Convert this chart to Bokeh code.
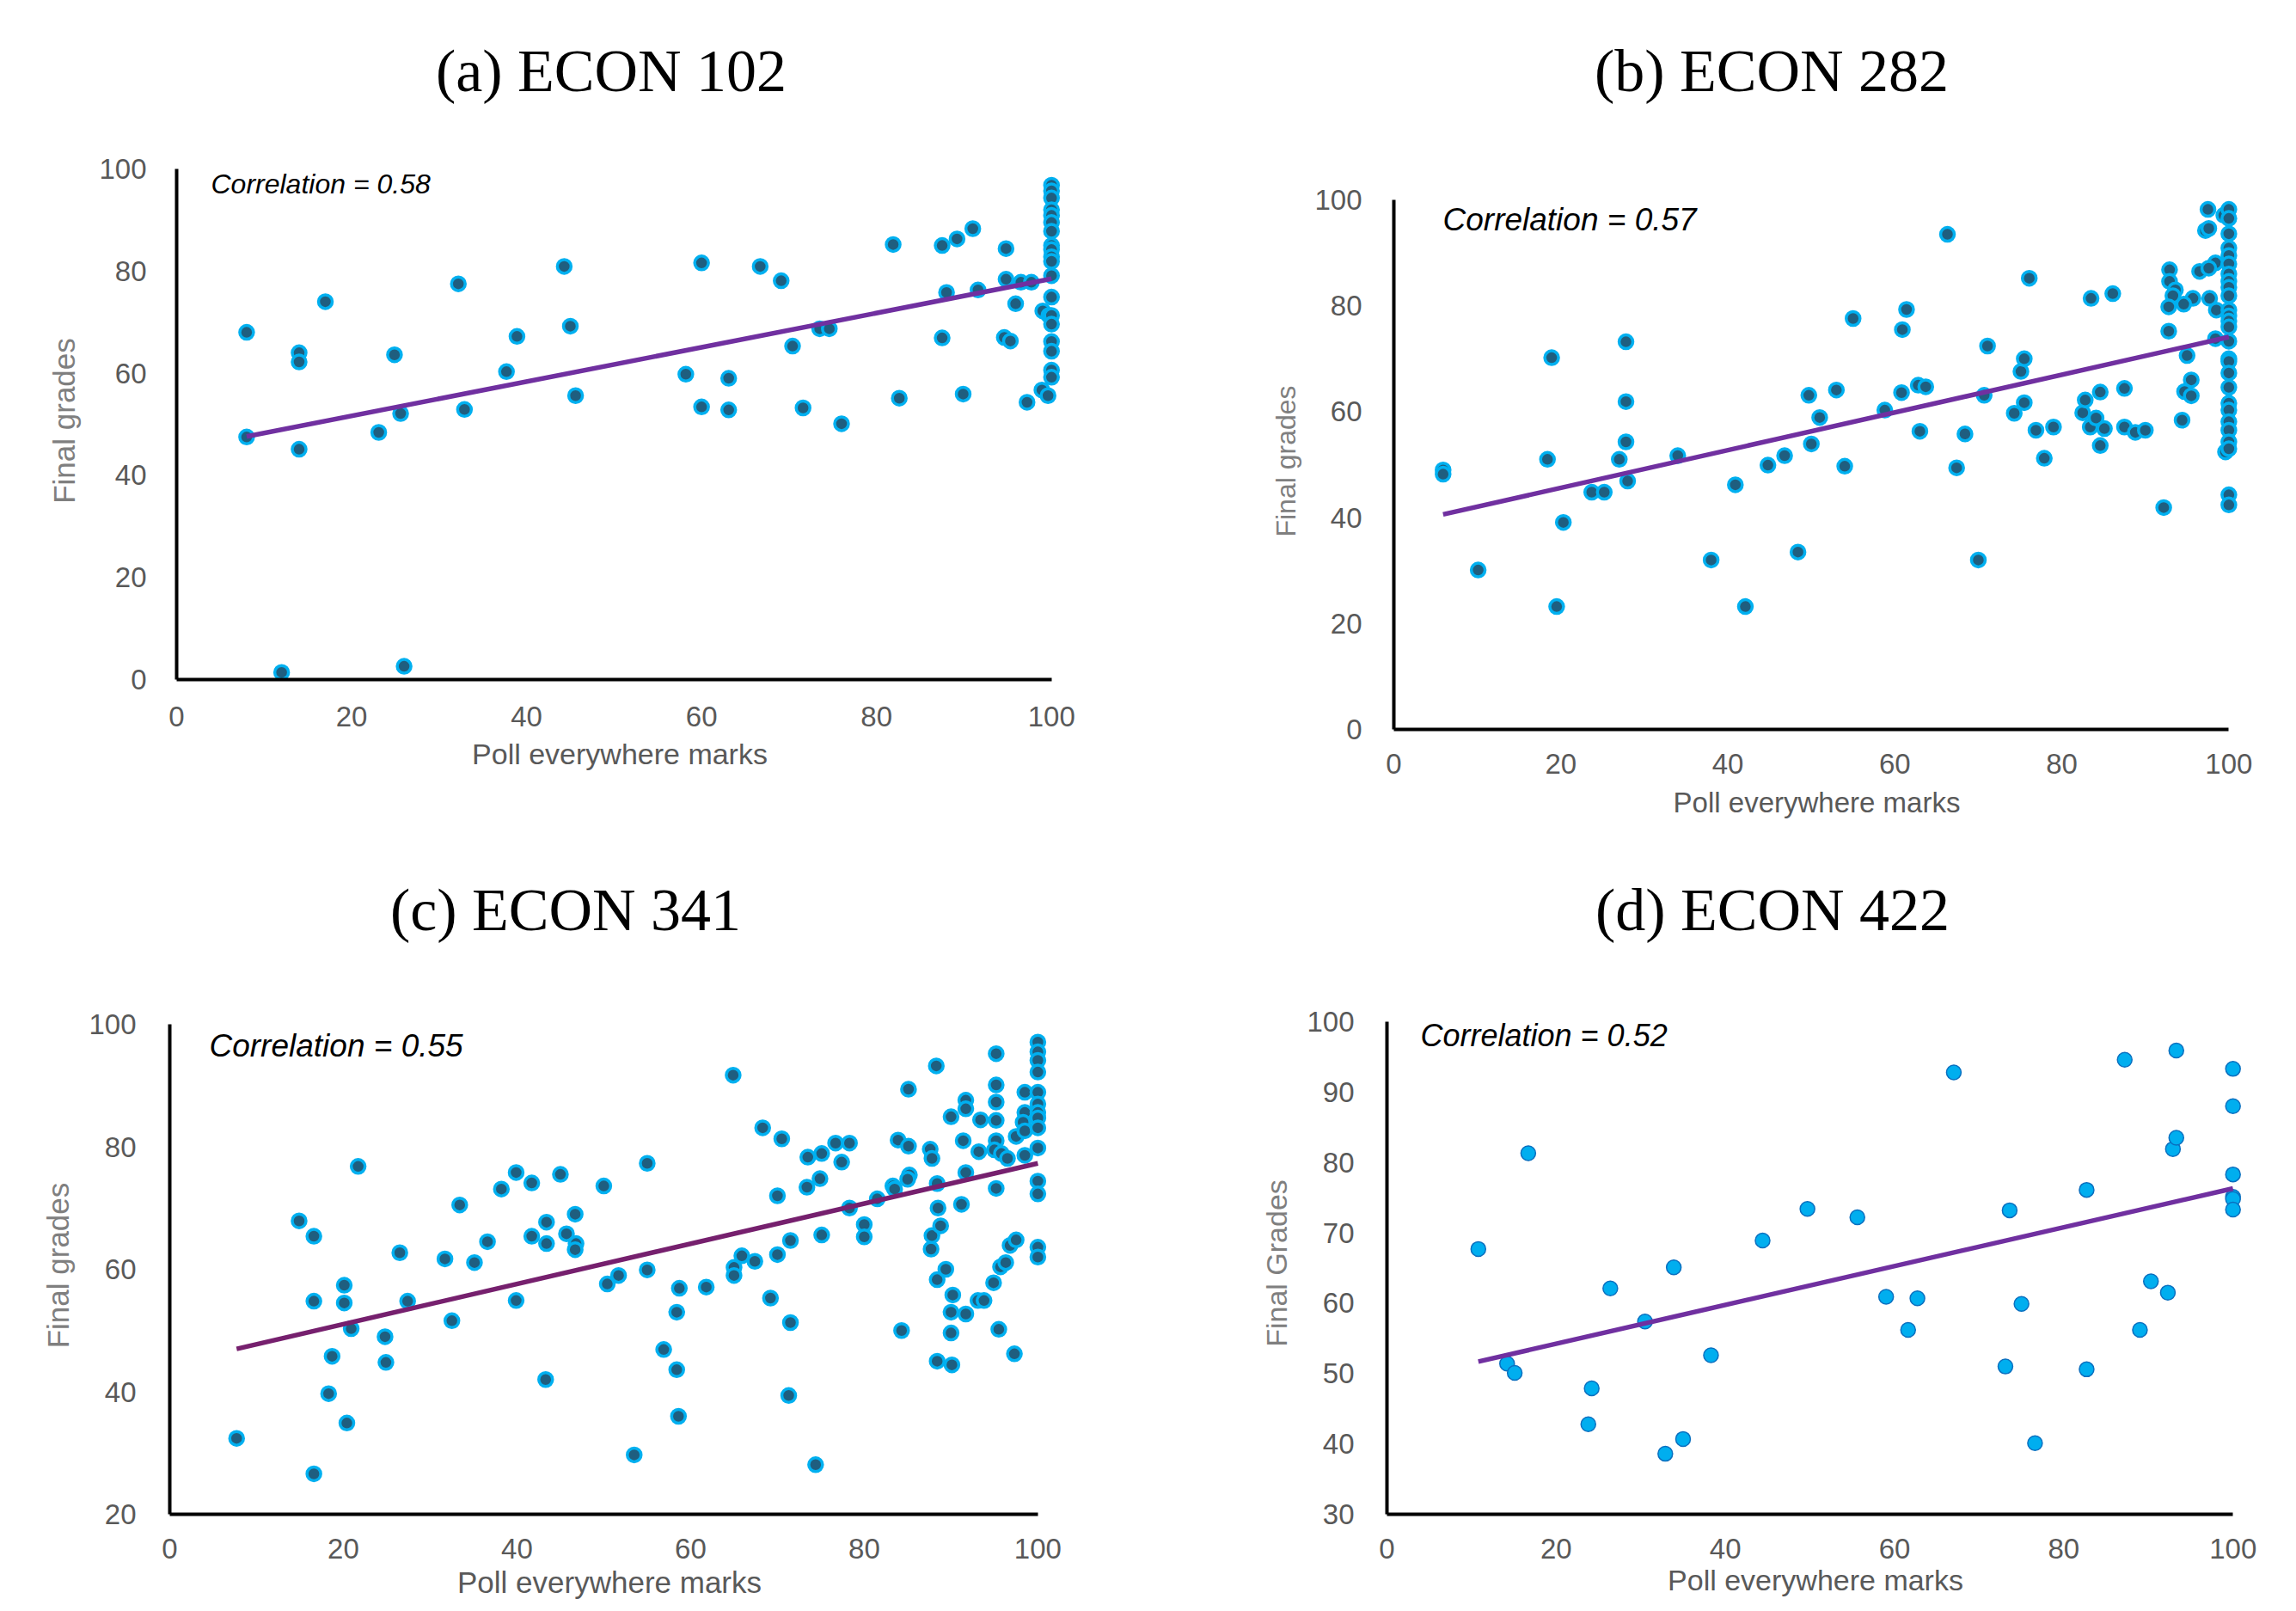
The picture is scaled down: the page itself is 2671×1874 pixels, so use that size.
from bokeh.plotting import figure
from bokeh.layouts import column, row
from bokeh.models import Range1d, Label, FixedTicker, Spacer, Div
from bokeh.embed import file_html
from bokeh.resources import INLINE

# ---------------- data ----------------
titles = ["(a) ECON 102", "(b) ECON 282", "(c) ECON 341", "(d) ECON 422"]
correlations = ["Correlation = 0.58", "Correlation = 0.57", "Correlation = 0.55", "Correlation = 0.52"]
x_label = "Poll everywhere marks"
y_labels = ["Final grades", "Final grades", "Final grades", "Final Grades"]
x_ticks = [0, 20, 40, 60, 80, 100]
y_ticks_a = [0, 20, 40, 60, 80, 100]
y_ticks_b = [0, 20, 40, 60, 80, 100]
y_ticks_c = [20, 40, 60, 80, 100]
y_ticks_d = [30, 40, 50, 60, 70, 80, 90, 100]

a_poll = [8, 8, 12, 14, 14, 14, 17, 23.1, 24.9, 25.6, 26, 32.2, 32.9, 37.7, 38.9, 44.3, 45, 45.6,
          58.2, 60, 60, 63.1, 63.1, 66.7, 69.1, 70.4, 71.6, 73.5, 74.6, 76, 81.9, 82.6, 87.5, 87.5,
          88, 89.2, 89.9, 91, 91.6, 94.8, 94.8, 94.6, 95.3, 95.9, 96.5, 97.7, 97.2, 98.9, 99.6, 99.0, 99.7,
          100, 100, 100, 100, 100, 100, 100, 100, 100, 100, 100, 100, 100, 100, 100, 100, 100, 100, 100]
a_final = [68, 47.5, 1.4, 64, 62.2, 45.1, 74, 48.4, 63.6, 52.1, 2.6, 77.5, 52.9, 60.3, 67.2, 80.9, 69.2, 55.6,
           59.8, 81.6, 53.4, 59, 52.8, 80.9, 78.1, 65.3, 53.2, 68.7, 68.7, 50.1, 85.2, 55.1, 85, 66.9,
           75.8, 86.3, 55.9, 88.3, 76.3, 84.4, 78.4, 67, 66.3, 73.6, 77.8, 77.8, 54.3, 56.7, 55.6, 72.2, 71.3,
           96.8, 95.7, 94.3, 92.0, 90.9, 89.5, 87.8, 85.0, 84.2, 82.8, 81.9, 79.1, 74.9, 71.3, 69.6, 66.2, 64.3, 60.6, 59.2]
a_trend_x = [8, 100]
a_trend_y = [47.6, 78.5]

b_poll = [5.9, 5.9, 10.1, 18.4, 18.9, 19.5, 20.3, 23.7, 25.2, 27.0, 27.8, 27.8, 27.8, 28.0, 34.0, 38.0,
          40.9, 42.1, 44.8, 46.8, 48.4, 49.7, 50.0, 51.0, 53.0, 54.0, 55.0, 58.8, 60.8, 60.9, 61.4, 62.8,
          63.0, 63.7, 66.3, 67.4, 68.4, 70.0, 70.7, 71.1, 74.3, 75.1, 75.5, 75.5, 76.1, 76.9, 77.9, 79.0,
          82.5, 82.8, 83.5, 83.4, 84.1, 84.6, 84.6, 85.1, 86.1, 87.5, 87.5, 88.8, 90.0, 92.2,
          92.9, 92.9, 93.6, 93.3, 95.7, 94.6, 92.8, 97.7, 98.5, 92.8, 98.4, 95.0, 95.5, 94.7, 95.5, 94.4,
          97.5, 99.4, 97.2, 97.6, 98.4, 96.5, 97.6, 99.6,
          100, 100, 100, 100, 100, 100, 100, 100, 100, 100, 100, 100, 100, 100, 100, 100, 100, 100,
          100, 100, 100, 100, 100, 100, 100, 100, 100]
b_final = [49.0, 48.2, 30.1, 51.0, 70.2, 23.2, 39.1, 44.8, 44.8, 51.0, 73.2, 61.9, 54.3, 46.9, 51.7, 32.0,
           46.2, 23.2, 49.9, 51.7, 33.5, 63.1, 53.9, 58.9, 64.1, 49.7, 77.6, 60.3, 63.6, 75.5, 79.3, 65.0,
           56.3, 64.7, 93.5, 49.4, 55.8, 32.0, 63.1, 72.4, 59.7, 67.6, 70.0, 61.7, 85.2, 56.5, 51.2, 57.1,
           59.8, 62.2, 81.4, 57.1, 58.8, 63.7, 53.6, 56.8, 82.3, 64.4, 57.1, 56.1, 56.5, 41.9,
           86.8, 84.6, 83.0, 81.9, 81.4, 80.3, 79.8, 81.4, 79.2, 75.2, 73.8, 70.6, 66.0, 63.8, 63.0, 58.4,
           98.2, 97.1, 94.2, 94.6, 88.1, 86.5, 87.1, 52.4,
           98.2, 96.5, 93.6, 90.9, 89.5, 87.9, 86.0, 84.6, 83.5, 81.9, 79.2, 78.1, 77.1, 76.0, 73.3, 70.0,
           69.5, 67.3, 64.6, 61.6, 60.3, 58.1, 56.5, 54.3, 53.0, 44.3, 42.4]
b_trend_x = [5.9, 100]
b_trend_y = [40.6, 74.1]

c_poll = [7.7, 14.9, 16.6, 16.6, 16.6, 18.3, 18.7, 20.1, 20.1, 20.4, 20.9, 21.7, 24.8, 24.9, 26.5, 27.4,
          31.7, 32.5, 33.4, 35.1, 36.6, 38.2, 39.9, 39.9, 41.7, 41.7, 43.3, 43.4, 43.4, 45.0, 45.7, 46.7,
          46.8, 46.7, 50.0, 50.4, 51.7, 53.5, 55.0, 55.0, 56.9, 58.4, 58.4, 58.6, 58.7, 61.8, 64.9, 65.0,
          65.0, 65.9, 67.4, 68.3, 69.2, 70.0, 70.0, 70.5, 71.5, 71.5, 71.3, 73.4, 73.5, 74.4, 74.9, 75.1,
          75.1, 76.7, 77.4, 78.3, 78.3, 80.0, 80.0, 81.5, 83.3, 83.5, 83.9, 84.3, 85.1, 85.1, 85.2, 85.0,
          87.6, 87.8, 87.7, 87.8, 88.3, 88.4, 88.5, 88.8, 88.4, 88.4, 89.4, 90.0, 90.1, 90.2, 90.0, 90.0,
          91.2, 91.4, 91.7, 91.7, 91.7, 91.7, 93.1, 93.4, 93.2, 93.8, 94.9, 95.2, 95.2, 95.2, 95.2, 95.2,
          95.0, 95.8, 96.5, 95.2, 95.5, 95.7, 96.3, 96.8, 97.5, 97.3, 97.5, 98.5, 98.5, 98.3, 98.5, 98.5,
          100, 100, 100, 100, 100, 100, 100, 100, 100, 100, 100, 100, 100, 100]
c_final = [32.4, 67.9, 65.4, 54.8, 26.6, 39.7, 45.8, 57.4, 54.5, 34.9, 50.3, 76.8, 49.0, 44.8, 62.7, 54.8,
           61.7, 51.6, 70.5, 61.1, 64.5, 73.1, 75.8, 54.9, 74.1, 65.4, 42.0, 67.7, 64.2, 75.5, 65.8, 69.0,
           64.2, 63.2, 73.6, 57.6, 59.0, 29.7, 77.3, 59.9, 46.9, 43.6, 53.0, 36.0, 56.9, 57.1, 91.7, 60.3,
           59.0, 62.2, 61.3, 83.1, 55.3, 72.0, 62.4, 81.3, 64.7, 51.3, 39.4, 73.4, 78.3, 28.1, 74.8, 78.9,
           65.6, 80.6, 77.5, 80.6, 70.0, 67.3, 65.3, 71.5, 73.6, 73.1, 81.1, 50.0, 89.4, 80.1, 75.4, 74.7,
           79.6, 78.1, 63.3, 65.5, 93.2, 74.0, 70.0, 67.1, 58.3, 45.0, 60.0, 84.9, 44.4, 55.8, 53.0, 49.6,
           70.6, 81.0, 52.7, 75.8, 87.6, 86.2, 54.9, 84.4, 79.2, 54.9, 57.8, 95.2, 90.1, 87.3, 84.3, 81.0,
           79.5, 78.9, 78.1, 73.2, 50.2, 60.4, 61.1, 63.9, 64.8, 46.2, 81.7, 88.9, 85.6, 84.0, 82.6, 78.6,
           97.1, 95.5, 94.1, 92.2, 88.9, 87.0, 85.6, 84.7, 83.1, 79.8, 74.4, 72.3, 63.6, 62.0]
c_trend_x = [7.7, 100]
c_trend_y = [47.0, 77.3]

d_poll = [10.8, 14.2, 15.1, 16.7, 23.8, 24.2, 26.4, 30.5, 32.9, 33.9, 35.0, 38.3, 44.4, 49.7, 55.6, 59.0,
          61.6, 62.7, 67.0, 73.1, 73.6, 75.0, 76.6, 82.7, 82.7, 87.2, 89.0, 90.3, 92.3, 92.9, 93.3, 93.3,
          100, 100, 100, 100, 100, 100]
d_final = [67.7, 51.4, 50.1, 81.3, 42.8, 47.9, 62.1, 57.4, 38.6, 65.1, 40.7, 52.6, 68.9, 73.4, 72.2, 60.9,
           56.2, 60.7, 92.8, 51.0, 73.2, 59.9, 40.1, 76.1, 50.6, 94.6, 56.2, 63.1, 61.5, 81.9, 83.5, 95.9,
           93.3, 88.0, 78.3, 75.1, 74.8, 73.3]
d_trend_x = [10.8, 100]
d_trend_y = [51.7, 76.3]

# ---------------- layout helpers ----------------
TICK_FONT = "Liberation Sans"
TITLE_PX = 70
T_BORDER = 10


def make_panel(xs, ys, tx, ty, title, corr, ylab, yticks, geom, style):
    ox, W = geom["col"]
    row_top, row_bottom, B = geom["row"]
    px0, px100, py_top, py_bot = geom["frame"]
    ymin, ymax = yticks[0], yticks[-1]
    sx = (px100 - px0) / 100.0
    sy = (py_bot - py_top) / float(ymax - ymin)
    x_end = 101.3
    left = px0 - ox
    frame_right = left + sx * x_end

    frame_top_nom = py_bot - sy * (ymax + 1.3 - ymin)
    div_h = int(round(frame_top_nom - T_BORDER - row_top))
    frame_top = row_top + div_h + T_BORDER
    y_end = ymin + (py_bot - frame_top) / sy
    plot_h = int(py_bot + B - frame_top + T_BORDER)
    spacer_h = row_bottom - (row_top + div_h + plot_h)

    def to_x(pg):
        return (pg - px0) / sx

    def to_y(pg):
        return ymin + (py_bot - pg) / sy

    p = figure(width=W, height=plot_h, output_backend="svg", toolbar_location=None, title=None,
               x_range=Range1d(0, x_end), y_range=Range1d(ymin, y_end),
               min_border_left=int(round(left)), min_border_right=int(round(W - frame_right)),
               min_border_top=T_BORDER, min_border_bottom=B)
    p.outline_line_color = None
    p.background_fill_color = "white"
    p.border_fill_color = "white"
    p.xgrid.visible = False
    p.ygrid.visible = False

    for ax in (p.xaxis[0], p.yaxis[0]):
        ax.axis_line_color = "black"
        ax.axis_line_width = 4
        ax.major_tick_line_color = None
        ax.minor_tick_line_color = None
        ax.major_tick_out = 0
        ax.major_tick_in = 0
        ax.major_label_text_font = TICK_FONT
        ax.major_label_text_font_size = "33px"
        ax.major_label_text_color = "#595959"
        ax.axis_label_text_font = TICK_FONT
        ax.axis_label_text_font_style = "normal"

    p.xaxis.ticker = FixedTicker(ticks=x_ticks)
    p.yaxis.ticker = FixedTicker(ticks=yticks)
    p.xaxis.bounds = (0, 100)
    p.yaxis.bounds = (ymin, ymax)
    p.xaxis.axis_label = x_label
    p.yaxis.axis_label = ylab
    p.xaxis.axis_label_text_font_size = geom["xlab_size"]
    p.yaxis.axis_label_text_font_size = geom["ylab_size"]
    p.xaxis.axis_label_text_color = "#595959"
    p.yaxis.axis_label_text_color = "#7f7f7f"
    p.xaxis.major_label_standoff = geom["xstand"][0]
    p.xaxis.axis_label_standoff = geom["xstand"][1]
    p.yaxis.major_label_standoff = geom["ystand"][0]
    p.yaxis.axis_label_standoff = geom["ystand"][1]

    p.scatter(xs, ys, size=style["size"], fill_color=style["fill"], line_color=style["edge"],
              line_width=style["edge_w"])
    p.line(tx, ty, line_color=style["trend"], line_width=5.5)

    cx, cy, cs = geom["corr"]
    p.add_layout(Label(x=to_x(cx), y=to_y(cy), text=corr, text_align="left",
                       text_baseline="alphabetic", text_font=TICK_FONT, text_font_style="italic",
                       text_font_size=cs, text_color="black"))

    # title as a centred heading above the plot
    tcx, tby = geom["title"]
    shift = tcx - (ox + W / 2.0)
    base_rel = tby - row_top
    line_h = 2 * (base_rel - 0.891 * TITLE_PX) + 1.107 * TITLE_PX
    styles = {
        "font-family": "Liberation Serif",
        "font-size": "%dpx" % TITLE_PX,
        "line-height": "%.1fpx" % line_h,
        "text-align": "center",
        "color": "black",
        "white-space": "nowrap",
        "box-sizing": "border-box",
        "overflow": "visible",
    }
    if shift >= 0:
        styles["padding-left"] = "%dpx" % int(round(2 * shift))
    else:
        styles["padding-right"] = "%dpx" % int(round(-2 * shift))
    head = Div(text=title, width=W, height=div_h, margin=0, styles=styles)

    items = [head, p]
    if spacer_h > 0:
        items.append(Spacer(width=W, height=spacer_h, margin=0))
    return column(*items, spacing=0)


style_dark = dict(size=16, fill="#1f5e7f", edge="#00b0f0", edge_w=3.5, trend="#7030a0")
style_c = dict(size=16, fill="#1f5e7f", edge="#00b0f0", edge_w=3.5, trend="#76206e")
style_d = dict(size=17, fill="#00aeef", edge="#0a6fbf", edge_w=1.5, trend="#7030a0")

ROW1 = (0, 964, 116)
ROW2 = (964, 1873, 112)

geom_a = dict(col=(0, 1335), row=ROW1, frame=(205, 1223, 196, 790), xstand=(31, 10), ystand=(35, 18),
              title=(711, 107), corr=(245, 213, "32px"), xlab_size="34px", ylab_size="35px")
geom_b = dict(col=(1335, 1336), row=ROW1, frame=(1621, 2592, 232, 848), xstand=(28, 12), ystand=(37, 12),
              title=(2061, 107), corr=(1678, 255, "37px"), xlab_size="33px", ylab_size="32px")
geom_c = dict(col=(0, 1335), row=ROW2, frame=(197, 1207, 1191, 1761), xstand=(28, 5), ystand=(39, 13),
              title=(658, 1083), corr=(243, 1216, "37px"), xlab_size="35px", ylab_size="35px")
geom_d = dict(col=(1335, 1336), row=ROW2, frame=(1613, 2597, 1188, 1761), xstand=(28, 3), ystand=(38, 13),
              title=(2062, 1083), corr=(1652, 1204, "36px"), xlab_size="34px", ylab_size="34px")

pa = make_panel(a_poll, a_final, a_trend_x, a_trend_y, titles[0], correlations[0], y_labels[0],
                y_ticks_a, geom_a, style_dark)
pb = make_panel(b_poll, b_final, b_trend_x, b_trend_y, titles[1], correlations[1], y_labels[1],
                y_ticks_b, geom_b, style_dark)
pc = make_panel(c_poll, c_final, c_trend_x, c_trend_y, titles[2], correlations[2], y_labels[2],
                y_ticks_c, geom_c, style_c)
pd_ = make_panel(d_poll, d_final, d_trend_x, d_trend_y, titles[3], correlations[3], y_labels[3],
                 y_ticks_d, geom_d, style_d)

layout = column(row(pa, pb, spacing=0), row(pc, pd_, spacing=0), spacing=0)
open("out.html", "w").write(file_html(layout, INLINE))
